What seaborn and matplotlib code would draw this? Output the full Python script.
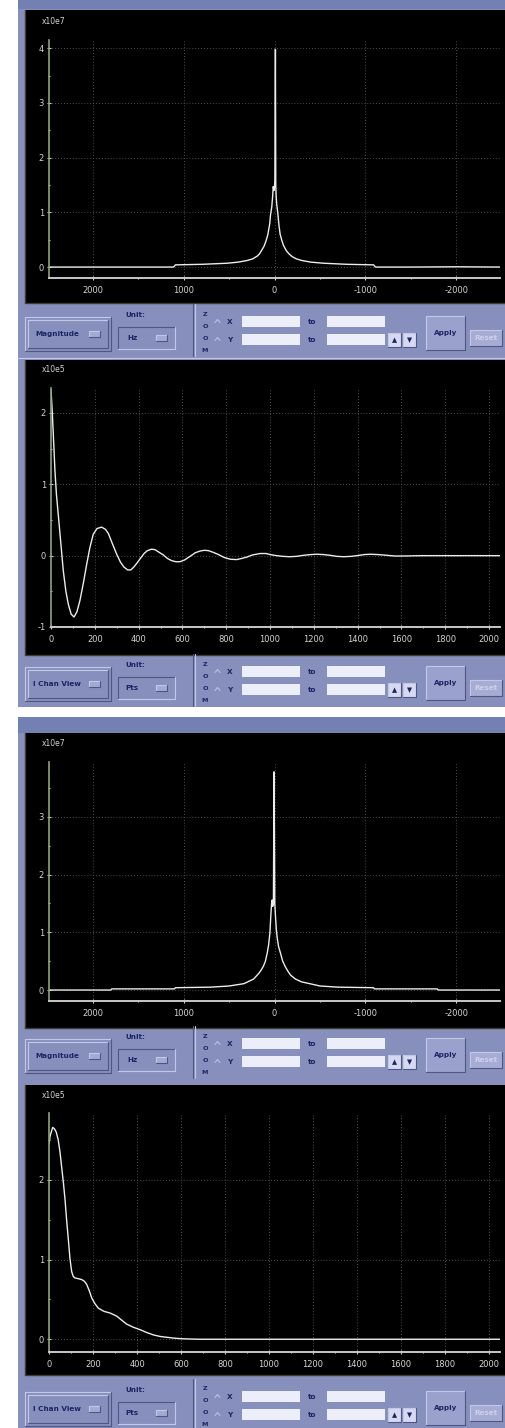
import matplotlib
matplotlib.use("Agg")
import matplotlib.pyplot as plt
from matplotlib.patches import Rectangle
from matplotlib.ticker import MultipleLocator
import pandas as pd
import seaborn as sns

# ---------------------------------------------------------------- data
# Magnitude spectrum, capture 1 (x10e7) vs frequency (Hz)
mag1_hz = [-2480, -2000, -1500, -1110, -1090, -800, -540, -400, -300, -240,
           -195, -160, -130, -100, -80, -62, -50, -44, -36, -30, -24, -18,
           -14, -10, -4, 0, 6, 14, 20, 30, 44, 52, 60, 75, 95, 115, 140, 165,
           190, 240, 300, 400, 520, 800, 1090, 1110, 1500, 2000, 2480]
mag1_val = [0.0, 0.005, 0.0, 0.0, 0.04, 0.05, 0.07, 0.09, 0.12, 0.15,
            0.19, 0.24, 0.30, 0.39, 0.49, 0.60, 0.75, 0.85, 0.99, 1.07, 1.15,
            1.30, 1.50, 3.98, 1.60, 1.45, 1.40, 1.47, 1.30, 1.10, 0.95, 0.80,
            0.72, 0.58, 0.47, 0.38, 0.31, 0.24, 0.20, 0.15, 0.12, 0.09, 0.07,
            0.05, 0.04, 0.0, 0.0, 0.0, 0.0]

# I channel, capture 1 (x10e5) vs sample index (Pts)
ich1_pts = [0, 6, 12, 18, 25, 33, 45, 56, 68, 79, 92, 105, 118, 132, 148,
            163, 178, 193, 210, 231, 248, 262, 280, 300, 317, 333, 350, 364,
            378, 391, 410, 425, 440, 458, 474, 492, 513, 532, 551, 570, 589,
            610, 635, 658, 681, 700, 719, 742, 765, 790, 818, 848, 870, 894,
            920, 955, 980, 1001, 1030, 1060, 1090, 1120, 1153, 1185, 1214,
            1245, 1275, 1305, 1336, 1370, 1397, 1430, 1458, 1495, 1534, 1570,
            1600, 1700, 1850, 2050]
ich1_val = [2.33, 2.00, 1.60, 1.19, 0.85, 0.58, 0.17, -0.21, -0.50, -0.68,
            -0.82, -0.86, -0.79, -0.63, -0.38, -0.12, 0.12, 0.30, 0.38, 0.40,
            0.37, 0.31, 0.17, 0.02, -0.09, -0.16, -0.20, -0.20, -0.16, -0.11,
            -0.03, 0.03, 0.07, 0.09, 0.085, 0.05, 0.01, -0.04, -0.07, -0.085,
            -0.085, -0.06, -0.01, 0.04, 0.065, 0.075, 0.07, 0.045, 0.015,
            -0.025, -0.05, -0.055, -0.04, -0.02, 0.01, 0.03, 0.03, 0.015, 0.0,
            -0.01, -0.015, -0.01, 0.005, 0.015, 0.02, 0.015, 0.005, -0.01,
            -0.015, -0.01, 0.0, 0.015, 0.02, 0.015, 0.005, -0.005, -0.005,
            0.0, 0.0, 0.0]

# Magnitude spectrum, capture 2 (x10e7) vs frequency (Hz)
mag2_hz = [-2480, -1800, -1790, -1100, -1090, -700, -500, -360, -300, -230,
           -176, -150, -120, -90, -66, -45, -30, -20, -10, -3, 5, 12, 20, 25,
           32, 40, 51, 65, 80, 100, 120, 145, 172, 230, 337, 500, 700, 1090,
           1100, 1790, 1800, 2480]
mag2_val = [0.0, 0.0, 0.02, 0.02, 0.04, 0.05, 0.07, 0.12, 0.14, 0.19,
            0.26, 0.32, 0.40, 0.50, 0.64, 0.75, 0.90, 1.05, 1.30, 1.50, 3.78,
            1.50, 1.45, 1.56, 1.50, 1.30, 0.98, 0.78, 0.64, 0.50, 0.42, 0.35,
            0.29, 0.19, 0.11, 0.07, 0.05, 0.04, 0.02, 0.02, 0.0, 0.0]

# I channel, capture 2 (x10e5) vs sample index (Pts)
ich2_pts = [0, 5, 10, 17, 25, 33, 42, 50, 58, 66, 73, 80, 88, 95, 103, 110,
            118, 133, 148, 160, 171, 183, 194, 208, 224, 250, 277, 308, 330,
            353, 384, 414, 444, 474, 505, 535, 565, 595, 640, 686, 1000, 1500,
            2050]
ich2_val = [2.45, 2.55, 2.60, 2.66, 2.64, 2.60, 2.50, 2.35, 2.15, 1.95, 1.75,
            1.50, 1.25, 1.02, 0.85, 0.79, 0.77, 0.76, 0.75, 0.73, 0.69, 0.61,
            0.52, 0.45, 0.39, 0.35, 0.33, 0.29, 0.24, 0.19, 0.15, 0.12, 0.085,
            0.055, 0.035, 0.025, 0.015, 0.008, 0.003, 0.0, 0.0, 0.0, 0.0]

freq_ticks = [2000, 1000, 0, -1000, -2000]
freq_labels = ["2000", "1000", "0", "-1000", "-2000"]
pts_ticks = [0, 200, 400, 600, 800, 1000, 1200, 1400, 1600, 1800, 2000]
pts_labels = [str(t) for t in pts_ticks]

# ---------------------------------------------------------------- style
sns.set_theme(style="dark")
plt.rcParams["font.family"] = ["DejaVu Sans"]

W, H = 505, 1428
BG = "#878fbd"
TITLE = "#7380b2"
FIELD = "#eceefa"
INK = "#1c2464"
LIGHT = "#c3c8e8"
DARK = "#4f5782"
TRACE = "#ececec"
TICKC = "#d4d4d4"

fig = plt.figure(figsize=(W / 100, H / 100), dpi=100, facecolor="white")
base = fig.add_axes([0, 0, 1, 1])
base.set_xlim(0, W)
base.set_ylim(H, 0)
base.axis("off")


def rect(x0, y0, x1, y1, color, z=1):
    base.add_patch(Rectangle((x0, y0), x1 - x0, y1 - y0, facecolor=color,
                             edgecolor="none", zorder=z))


def bevel(x0, y0, x1, y1, face, raised=True, z=2):
    rect(x0, y0, x1, y1, face, z)
    lt, dk = (LIGHT, DARK) if raised else (DARK, LIGHT)
    base.plot([x0, x1], [y0, y0], color=lt, lw=0.8, zorder=z + 0.1)
    base.plot([x0, x0], [y0, y1], color=lt, lw=0.8, zorder=z + 0.1)
    base.plot([x0, x1], [y1, y1], color=dk, lw=0.8, zorder=z + 0.1)
    base.plot([x1, x1], [y0, y1], color=dk, lw=0.8, zorder=z + 0.1)


def label(x, y, s, size=5.2, color=INK, weight="bold", ha="center"):
    base.text(x, y, s, fontsize=size, color=color, fontweight=weight,
              ha=ha, va="center", zorder=5)


def controls(w, mode, unit):
    # mode drop-down
    bevel(25, w + 1, 111, w + 35, BG)
    bevel(28, w + 4, 108, w + 32, BG)
    label(57, w + 18, mode)
    bevel(89, w + 15, 100, w + 21, "#a4aad2")
    # unit drop-down
    label(135, w - 1, "Unit:")
    bevel(118, w + 11, 175, w + 33, BG, raised=False)
    label(132, w + 22, unit)
    bevel(156, w + 19, 167, w + 25, "#a4aad2")
    # separator
    base.plot([193, 193], [w - 12, w + 40], color=DARK, lw=0.8, zorder=3)
    base.plot([194.5, 194.5], [w - 12, w + 40], color=LIGHT, lw=0.8, zorder=3)
    # zoom group
    for k, ch in enumerate("ZOOM"):
        label(205, w - 2 + 12 * k, ch, size=4.6)
    for yy in (w + 5, w + 23):
        base.plot([215, 217.5, 220], [yy + 1.5, yy - 1.5, yy + 1.5],
                  color=LIGHT, lw=0.7, zorder=4)
    label(230, w + 6, "X")
    label(230, w + 24, "Y")
    for yy in (w, w + 18):
        rect(242, yy, 300, yy + 11, FIELD, 3)
        rect(327, yy, 385, yy + 11, FIELD, 3)
    label(312, w + 6, "to")
    label(312, w + 24, "to")
    bevel(388, w + 17, 401, w + 31, "#d6d9ef")
    label(394.5, w + 24, "\u25b2", size=4.8)
    bevel(403, w + 17, 416, w + 31, "#d6d9ef")
    label(409.5, w + 24, "\u25bc", size=4.8)
    bevel(426, w, 465, w + 34, "#9aa1cc")
    label(445.5, w + 17, "Apply")
    bevel(470, w + 14, 502, w + 30, "#a6acd4")
    label(486, w + 22, "Reset", color="#cdd1ec")


def px_axes(x0, y0, x1, y1):
    return fig.add_axes([x0 / W, 1 - y1 / H, (x1 - x0) / W, (y1 - y0) / H])


def trace_panel(box, xs, ys, xlim, ylim, yticks, xticks, xlabels, xminor,
                exponent):
    x0, y0, x1, y1 = box
    ax = px_axes(x0, y0, x1, y1)
    ax.set_facecolor("black")
    df = pd.DataFrame({"x": xs, "y": ys})
    sns.lineplot(data=df, x="x", y="y", ax=ax, color=TRACE, linewidth=1.0,
                 estimator=None, sort=True)
    ax.set_xlim(*xlim)
    ax.set_ylim(*ylim)
    ax.set_xticks(xticks)
    ax.set_xticklabels(xlabels)
    ax.xaxis.set_minor_locator(MultipleLocator(xminor))
    ax.set_yticks(yticks)
    ax.set_yticklabels([str(t) for t in yticks])
    ax.yaxis.set_minor_locator(MultipleLocator(0.5))
    ax.set_xlabel("")
    ax.set_ylabel("")
    ax.grid(True, which="major", color="#666666", linestyle=(0, (1, 2.5)),
            linewidth=0.6)
    for side in ("top", "right"):
        ax.spines[side].set_visible(False)
    ax.spines["bottom"].set_color("#c8c8c8")
    ax.spines["bottom"].set_linewidth(1.4)
    ax.spines["left"].set_color("#8fa27c")
    ax.spines["left"].set_linewidth(1.2)
    ax.tick_params(axis="both", which="both", colors=TICKC, direction="inout",
                   labelsize=6, bottom=True, left=True)
    ax.tick_params(axis="both", which="major", length=3, width=0.8)
    ax.tick_params(axis="both", which="minor", length=2, width=0.8)
    ax.tick_params(axis="x", pad=4)
    ax.tick_params(axis="y", pad=2)
    base.text(42, y0 - 18, exponent, fontsize=5.5, color=TICKC, ha="left",
              va="center", zorder=5)
    return ax


# ---------------------------------------------------------------- frames
rect(18, 0, W, 707, BG)
rect(18, 0, W, 9, TITLE)
rect(18, 717, W, H, BG)
rect(18, 717, W, 733, TITLE)
for top, bottom in ((10, 303), (360, 655), (733, 1028), (1085, 1375)):
    rect(25, top, W, bottom, "black", 1.5)
    base.plot([25, 25], [top, bottom], color="#3a3d2c", lw=1.0, zorder=1.6)
    base.plot([25, W], [bottom - 0.5, bottom - 0.5], color="#3a3d2c", lw=1.0,
              zorder=1.6)
base.plot([18, W], [357.5, 357.5], color=LIGHT, lw=0.8, zorder=2)

# ---------------------------------------------------------------- panels
trace_panel((49, 40, 500, 278), mag1_hz, mag1_val, (2480, -2480),
            (-0.2, 4.15), [0, 1, 2, 3, 4], freq_ticks, freq_labels, 500,
            "x10e7")
trace_panel((51, 388, 500, 627), ich1_pts, ich1_val, (0, 2050),
            (-1, 2.35), [-1, 0, 1, 2], pts_ticks, pts_labels, 100, "x10e5")
trace_panel((49, 762, 500, 1001), mag2_hz, mag2_val, (2480, -2480),
            (-0.19, 3.95), [0, 1, 2, 3], freq_ticks, freq_labels, 500,
            "x10e7")
trace_panel((49, 1113, 500, 1352), ich2_pts, ich2_val, (0, 2050),
            (-0.16, 2.84), [0, 1, 2], pts_ticks, pts_labels, 100, "x10e5")

# ---------------------------------------------------------------- controls
controls(316, "Magnitude", "Hz")
controls(666, "I Chan View", "Pts")
controls(1038, "Magnitude", "Hz")
controls(1391, "I Chan View", "Pts")

fig.savefig("out.png", dpi=100, facecolor="white")
